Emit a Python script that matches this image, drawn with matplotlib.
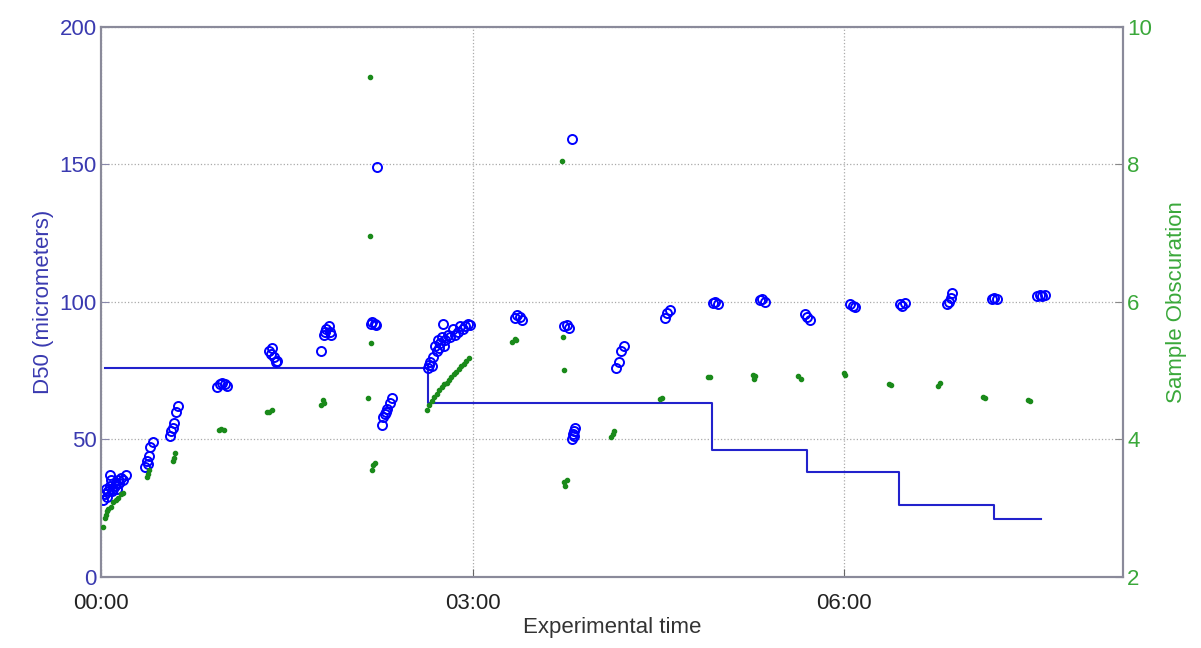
import numpy as np
import matplotlib.pyplot as plt
from matplotlib.ticker import FuncFormatter

plt.rcParams['font.family'] = ['Liberation Sans', 'DejaVu Sans']

# D50 samples (time in hours, micrometers)
d50_time = [0.02, 0.03, 0.04, 0.05, 0.06, 0.07, 0.08, 0.09, 0.10, 0.11, 0.12, 0.13, 0.14, 0.15, 0.16, 0.18, 0.20, 0.07,
            0.36, 0.37, 0.38, 0.39, 0.40, 0.42,
            0.56, 0.57, 0.58, 0.59, 0.61, 0.62,
            0.94, 0.96, 0.98, 1.00, 1.02,
            1.36, 1.37, 1.38, 1.40, 1.41, 1.42,
            1.78, 1.80, 1.81, 1.82, 1.84, 1.85, 1.86,
            2.18, 2.19, 2.21, 2.22, 2.23,
            2.27, 2.28, 2.29, 2.30, 2.31, 2.33, 2.35,
            2.64, 2.65, 2.66, 2.67, 2.68, 2.70, 2.71, 2.72, 2.73, 2.74, 2.75, 2.76, 2.77, 2.78,
            2.80, 2.82, 2.84, 2.86, 2.88, 2.90, 2.92, 2.94, 2.96, 2.98,
            3.34, 3.36, 3.38, 3.40,
            3.74, 3.76, 3.78, 3.80, 3.80, 3.81, 3.82, 3.83, 3.82,
            4.16, 4.18, 4.20, 4.22,
            4.55, 4.57, 4.59,
            4.94, 4.96, 4.98,
            5.32, 5.34, 5.36,
            5.68, 5.70, 5.72,
            6.05, 6.07, 6.09,
            6.45, 6.47, 6.49,
            6.83, 6.85, 6.86, 6.87,
            7.19, 7.21, 7.23,
            7.56, 7.58, 7.60, 7.62]
d50_vals = [28, 30, 32, 29, 31, 33, 35, 31, 32, 33, 34, 32, 35, 34, 36, 35, 37, 37,
            40, 42, 41, 44, 47, 49,
            51, 53, 54, 56, 60, 62,
            69, 70, 70.5, 70, 69.5,
            82, 81, 83, 80, 78, 78.5,
            82, 88, 89, 90, 91, 89, 88,
            92, 92.5, 92, 91.5, 149,
            55, 58, 59, 60, 61, 63, 65,
            76, 77, 78, 76.5, 80, 84, 82, 86, 83, 85, 87, 92, 84, 86,
            88, 87, 90, 88, 89, 91, 90, 91, 92, 91.5,
            94, 95, 94.5, 93.5,
            91, 91.5, 90.5, 159, 50, 52, 53, 54, 51,
            76, 78, 82, 84,
            94, 96, 97,
            99.5, 100, 99,
            100.5, 101, 100,
            95.5, 94.5, 93.5,
            99, 98.5, 98,
            99, 98.5, 99.5,
            99, 100, 101.5, 103,
            101, 101.5, 101,
            102, 102.5, 102, 102.5]

# sample obscuration (right axis)
obs_time = [0.02, 0.03, 0.04, 0.05, 0.06, 0.08, 0.10, 0.12, 0.14, 0.16, 0.18,
            0.37, 0.38, 0.39,
            0.58, 0.59, 0.60,
            0.95, 0.97, 0.99,
            1.34, 1.36, 1.38,
            1.78, 1.79, 1.80,
            2.17, 2.17, 2.18, 2.16, 2.19, 2.20, 2.21,
            2.63, 2.65, 2.67, 2.69, 2.71, 2.73, 2.75, 2.77, 2.79, 2.81, 2.83, 2.85, 2.87, 2.89, 2.91, 2.93, 2.95, 2.97,
            3.32, 3.34, 3.35,
            3.72, 3.73, 3.74, 3.74, 3.75, 3.76,
            4.12, 4.13, 4.14,
            4.51, 4.53,
            4.90, 4.92,
            5.26, 5.27, 5.28,
            5.63, 5.65,
            6.00, 6.01,
            6.36, 6.38,
            6.76, 6.77,
            7.12, 7.14,
            7.48, 7.50]
obs_vals = [2.73, 2.85, 2.9, 2.95, 2.98, 3.02, 3.08, 3.12, 3.15, 3.2, 3.22,
            3.45, 3.5, 3.55,
            3.68, 3.72, 3.8,
            4.14, 4.15, 4.14,
            4.39, 4.40, 4.42,
            4.5, 4.57, 4.52,
            9.27, 6.95, 5.4, 4.6, 3.55, 3.62, 3.65,
            4.42, 4.5, 4.55, 4.62, 4.66, 4.72, 4.76, 4.80, 4.82, 4.86, 4.9, 4.95, 4.98, 5.02, 5.06, 5.1, 5.14, 5.18,
            5.42, 5.46, 5.44,
            8.04, 5.49, 5.0, 3.38, 3.32, 3.4,
            4.03, 4.08, 4.12,
            4.58, 4.6,
            4.9, 4.9,
            4.93, 4.88, 4.92,
            4.92, 4.87,
            4.96, 4.94,
            4.8, 4.79,
            4.78, 4.82,
            4.62, 4.6,
            4.57, 4.55]

# step line (left axis)
step_time = [0.03, 2.64, 4.93, 5.70, 6.44, 7.21, 7.59]
step_vals = [76, 63, 46, 38, 26, 21, 21]

blue = '#0000ff'
green = '#1a8a1a'

fig = plt.figure(figsize=(12.01, 6.48), dpi=100)
ax = fig.add_axes([0.084, 0.11, 0.851, 0.849])
ax2 = ax.twinx()

ax.plot(d50_time, d50_vals, 'o', mfc='none', mec=blue, ms=6.5, mew=1.4, zorder=3)
ax.step(step_time, step_vals, where='post', color='#2222cc', lw=1.5, zorder=2)
ax2.plot(obs_time, obs_vals, '.', color=green, ms=6, zorder=3)

ax.set_xlim(0, 8.25)
ax.set_ylim(0, 200)
ax2.set_ylim(2, 10)
ax.set_xticks([0, 3, 6])
ax.xaxis.set_major_formatter(FuncFormatter(lambda v, p: '%02d:00' % int(round(v))))
ax.set_yticks([0, 50, 100, 150, 200])
ax2.set_yticks([2, 4, 6, 8, 10])

ax.grid(True, color='#aaaaaa', ls=':', lw=0.9)
ax.tick_params(direction='in', labelsize=16, length=6)
ax.tick_params(axis='y', colors='#8888aa', labelcolor='#3a3ab0', pad=3)
ax2.tick_params(direction='in', labelsize=16, length=6, colors='#888888', labelcolor='#3aa83a', pad=3)
ax.tick_params(axis='x', colors='#666666', labelcolor='#222222', pad=12)

for a in (ax, ax2):
    for s in a.spines.values():
        s.set_color('#8a8a9a')
        s.set_linewidth(1.5)

ax.set_xlabel('Experimental time', fontsize=16, color='#333333', labelpad=2)
ax.set_ylabel('D50 (micrometers)', fontsize=16, color='#3a3ab0', labelpad=4)
ax2.set_ylabel('Sample Obscuration', fontsize=16, color='#3aa83a', labelpad=10)

fig.savefig('out.png', dpi=100)
